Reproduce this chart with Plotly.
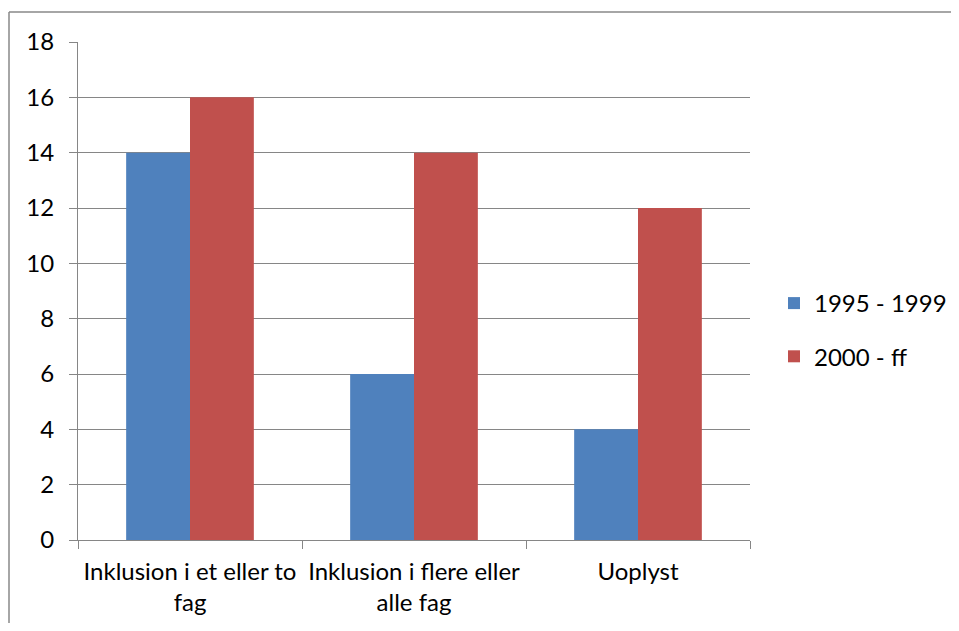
import plotly.graph_objects as go

categories = ["Inklusion i et eller to<br>fag", "Inklusion i flere eller<br>alle fag", "Uoplyst"]
series_names = ["1995 - 1999", "2000 - ff"]
values_1995 = [14, 6, 4]
values_2000 = [16, 14, 12]
colors = ["#4F81BD", "#C0504D"]
y_ticks = list(range(0, 19, 2))

FONT = "Lato, Carlito, Calibri, sans-serif"
FS = 24
GRID = "#868686"

fig = go.Figure()
for i, (name, vals) in enumerate(zip(series_names, [values_1995, values_2000])):
    fig.add_trace(go.Bar(
        x=categories, y=vals, name=name, legendgroup=name,
        marker=dict(color=colors[i], line=dict(width=0)),
    ))

# page has an 8px body margin, so figure coords = page coords - 8
OFF = 8
W, H = 959 - 2 * OFF, 631 - 2 * OFF
L, T = 78 - OFF, 42 - OFF
R = W - (750 - OFF)
B = H - (540 - OFF)
pw, ph = W - L - R, H - T - B

def px_x(p):
    return (p - OFF - L) / pw

def px_y(p):
    return (H - B - (p - OFF)) / ph

def cx(p):
    return (p - OFF) / W

def cy(p):
    return 1 - (p - OFF) / H

border = dict(color="#898989", width=1.5)

fig.update_layout(
    width=W, height=H,
    margin=dict(l=L, r=R, t=T, b=B, pad=0),
    paper_bgcolor="white", plot_bgcolor="white",
    barmode="group", bargap=0.43, bargroupgap=0,
    font=dict(family=FONT, size=FS, color="#000000"),
    showlegend=True,
    legend=dict(
        xref="container", yref="container",
        x=cx(774), y=cy(281), xanchor="left", yanchor="top",
        font=dict(family=FONT, size=FS, color="#000000"),
        traceorder="grouped", tracegroupgap=19,
        bgcolor="rgba(0,0,0,0)", itemwidth=30,
    ),
    xaxis=dict(
        showgrid=False, showline=True, linecolor=GRID, linewidth=1,
        ticks="outside", ticklen=8, tickcolor=GRID, tickwidth=1,
        tickson="boundaries", tickfont=dict(family=FONT, size=FS),
        ticklabelstandoff=10, automargin=False,
    ),
    yaxis=dict(
        range=[0, 18], tickvals=y_ticks, ticktext=[str(v) for v in y_ticks],
        showgrid=True, gridcolor=GRID, gridwidth=1,
        showline=True, linecolor=GRID, linewidth=1,
        ticks="outside", ticklen=8, tickcolor=GRID, tickwidth=1,
        tickfont=dict(family=FONT, size=FS), zeroline=False,
        ticklabelstandoff=10, automargin=False,
    ),
    shapes=[
        dict(type="line", xref="paper", yref="paper",
             x0=px_x(9), x1=px_x(975), y0=px_y(12), y1=px_y(12),
             line=border, layer="below"),
        dict(type="line", xref="paper", yref="paper",
             x0=px_x(9), x1=px_x(9), y0=px_y(650), y1=px_y(12),
             line=border, layer="below"),
    ],
)

fig.write_html("out.html")
